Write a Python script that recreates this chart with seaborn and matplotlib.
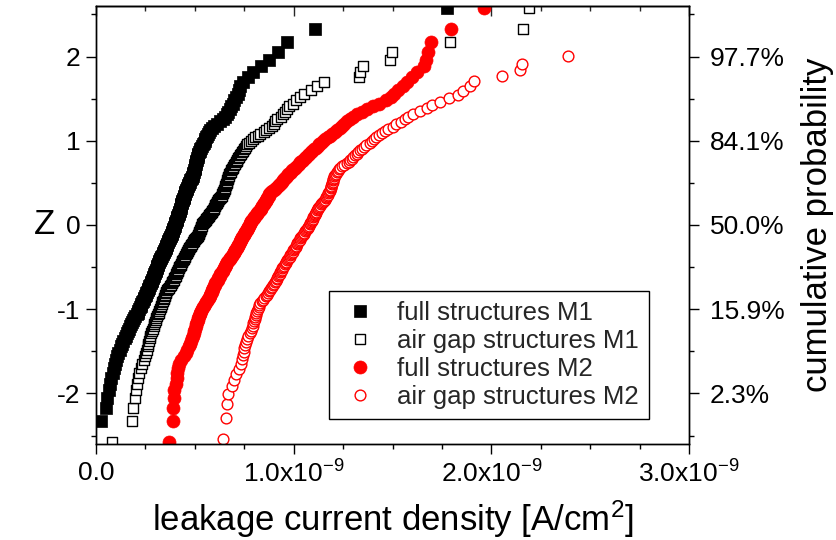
import matplotlib
matplotlib.use("Agg")
import matplotlib.pyplot as plt
import numpy as np
import pandas as pd
import seaborn as sns
from statistics import NormalDist
from matplotlib.lines import Line2D
from matplotlib.ticker import MultipleLocator, FixedLocator, FixedFormatter

# Leakage current densities in units of 1e-9 A/cm^2, sorted per sample set
full_m1 = [
    -0.050, 0.027, 0.050, 0.058, 0.065, 0.071, 0.077, 0.085, 0.090, 0.097,
    0.103, 0.108, 0.113, 0.120, 0.127, 0.133, 0.138, 0.145, 0.152, 0.158,
    0.163, 0.168, 0.172, 0.176, 0.183, 0.189, 0.193, 0.198, 0.205, 0.210,
    0.214, 0.219, 0.223, 0.227, 0.230, 0.234, 0.238, 0.241, 0.245, 0.249,
    0.252, 0.255, 0.258, 0.262, 0.265, 0.267, 0.270, 0.273, 0.276, 0.279,
    0.281, 0.284, 0.287, 0.289, 0.291, 0.294, 0.297, 0.300, 0.302, 0.305,
    0.307, 0.309, 0.311, 0.314, 0.316, 0.318, 0.321, 0.323, 0.326, 0.329,
    0.331, 0.334, 0.337, 0.340, 0.343, 0.345, 0.348, 0.350, 0.352, 0.354,
    0.356, 0.358, 0.361, 0.364, 0.366, 0.369, 0.371, 0.374, 0.376, 0.378,
    0.380, 0.382, 0.384, 0.386, 0.388, 0.390, 0.392, 0.394, 0.396, 0.398,
    0.400, 0.402, 0.404, 0.406, 0.408, 0.410, 0.411, 0.412, 0.414, 0.416,
    0.418, 0.420, 0.422, 0.424, 0.425, 0.427, 0.428, 0.429, 0.431, 0.432,
    0.433, 0.435, 0.437, 0.439, 0.441, 0.443, 0.445, 0.447, 0.449, 0.451,
    0.452, 0.454, 0.456, 0.459, 0.461, 0.464, 0.467, 0.470, 0.473, 0.476,
    0.478, 0.481, 0.484, 0.487, 0.489, 0.491, 0.493, 0.495, 0.497, 0.499,
    0.500, 0.502, 0.503, 0.505, 0.507, 0.508, 0.510, 0.512, 0.514, 0.516,
    0.518, 0.521, 0.524, 0.527, 0.531, 0.536, 0.541, 0.545, 0.549, 0.552,
    0.556, 0.561, 0.567, 0.572, 0.577, 0.586, 0.597, 0.610, 0.628, 0.640,
    0.652, 0.661, 0.668, 0.676, 0.685, 0.693, 0.700, 0.708, 0.716, 0.724,
    0.731, 0.745, 0.770, 0.793, 0.833, 0.877, 0.922, 0.968, 1.108, 1.774,
]

airgap_m1 = [
    0.080, 0.180, 0.189, 0.195, 0.200, 0.206, 0.213, 0.219, 0.227, 0.234,
    0.241, 0.246, 0.251, 0.256, 0.261, 0.265, 0.268, 0.271, 0.275, 0.279,
    0.283, 0.287, 0.291, 0.295, 0.299, 0.303, 0.306, 0.309, 0.313, 0.318,
    0.321, 0.324, 0.327, 0.330, 0.333, 0.336, 0.339, 0.342, 0.345, 0.348,
    0.350, 0.353, 0.356, 0.359, 0.363, 0.367, 0.372, 0.377, 0.382, 0.387,
    0.391, 0.394, 0.397, 0.400, 0.403, 0.406, 0.409, 0.412, 0.414, 0.416,
    0.419, 0.422, 0.425, 0.428, 0.431, 0.434, 0.437, 0.440, 0.443, 0.446,
    0.449, 0.452, 0.455, 0.458, 0.461, 0.464, 0.467, 0.470, 0.473, 0.476,
    0.479, 0.482, 0.486, 0.490, 0.494, 0.498, 0.502, 0.506, 0.510, 0.514,
    0.517, 0.519, 0.521, 0.523, 0.525, 0.527, 0.529, 0.531, 0.533, 0.535,
    0.538, 0.542, 0.546, 0.550, 0.554, 0.558, 0.562, 0.566, 0.570, 0.574,
    0.578, 0.582, 0.586, 0.589, 0.592, 0.595, 0.598, 0.601, 0.604, 0.607,
    0.610, 0.613, 0.616, 0.619, 0.623, 0.627, 0.631, 0.635, 0.639, 0.643,
    0.645, 0.647, 0.649, 0.651, 0.653, 0.655, 0.657, 0.659, 0.661, 0.663,
    0.664, 0.666, 0.668, 0.670, 0.672, 0.675, 0.678, 0.681, 0.684, 0.688,
    0.691, 0.695, 0.699, 0.703, 0.707, 0.711, 0.715, 0.719, 0.723, 0.728,
    0.732, 0.737, 0.742, 0.747, 0.752, 0.758, 0.764, 0.772, 0.782, 0.795,
    0.805, 0.818, 0.832, 0.848, 0.862, 0.876, 0.889, 0.898, 0.908, 0.918,
    0.935, 0.945, 0.955, 0.965, 0.978, 0.995, 1.013, 1.030, 1.052, 1.090,
    1.116, 1.153, 1.332, 1.335, 1.352, 1.487, 1.496, 1.790, 2.158, 2.190,
]

full_m2 = [
    0.371, 0.388, 0.389, 0.393, 0.397, 0.403, 0.408, 0.411, 0.414, 0.418,
    0.428, 0.446, 0.455, 0.462, 0.470, 0.476, 0.481, 0.486, 0.490, 0.494,
    0.497, 0.501, 0.504, 0.508, 0.511, 0.514, 0.517, 0.521, 0.525, 0.528,
    0.532, 0.537, 0.542, 0.547, 0.552, 0.557, 0.562, 0.567, 0.572, 0.577,
    0.579, 0.582, 0.585, 0.588, 0.591, 0.594, 0.597, 0.600, 0.604, 0.608,
    0.612, 0.615, 0.618, 0.621, 0.625, 0.629, 0.633, 0.637, 0.641, 0.645,
    0.648, 0.651, 0.654, 0.657, 0.660, 0.664, 0.668, 0.672, 0.676, 0.680,
    0.684, 0.688, 0.692, 0.696, 0.699, 0.702, 0.705, 0.708, 0.711, 0.714,
    0.717, 0.720, 0.723, 0.726, 0.729, 0.732, 0.735, 0.738, 0.741, 0.744,
    0.747, 0.750, 0.753, 0.756, 0.759, 0.762, 0.765, 0.768, 0.771, 0.774,
    0.777, 0.780, 0.783, 0.786, 0.789, 0.793, 0.797, 0.801, 0.805, 0.809,
    0.813, 0.817, 0.821, 0.825, 0.829, 0.833, 0.837, 0.841, 0.845, 0.849,
    0.852, 0.855, 0.858, 0.861, 0.864, 0.867, 0.870, 0.873, 0.876, 0.880,
    0.886, 0.892, 0.899, 0.906, 0.913, 0.920, 0.926, 0.932, 0.937, 0.942,
    0.946, 0.951, 0.956, 0.961, 0.967, 0.973, 0.979, 0.985, 0.992, 1.000,
    1.006, 1.013, 1.020, 1.027, 1.034, 1.041, 1.048, 1.056, 1.063, 1.071,
    1.079, 1.087, 1.095, 1.103, 1.112, 1.121, 1.130, 1.140, 1.150, 1.160,
    1.172, 1.184, 1.196, 1.208, 1.220, 1.232, 1.244, 1.256, 1.268, 1.283,
    1.298, 1.318, 1.345, 1.370, 1.400, 1.432, 1.465, 1.490, 1.510, 1.530,
    1.553, 1.575, 1.597, 1.622, 1.661, 1.669, 1.681, 1.693, 1.796, 1.963,
]

airgap_m2 = [
    0.644, 0.658, 0.661, 0.669, 0.690, 0.700, 0.709, 0.722, 0.734, 0.741,
    0.745, 0.748, 0.751, 0.756, 0.761, 0.766, 0.771, 0.777, 0.783, 0.788,
    0.792, 0.796, 0.799, 0.802, 0.804, 0.807, 0.811, 0.815, 0.819, 0.823,
    0.827, 0.832, 0.838, 0.845, 0.852, 0.858, 0.864, 0.869, 0.874, 0.879,
    0.884, 0.889, 0.894, 0.899, 0.904, 0.909, 0.914, 0.918, 0.922, 0.926,
    0.930, 0.933, 0.936, 0.939, 0.943, 0.947, 0.951, 0.955, 0.959, 0.963,
    0.967, 0.971, 0.975, 0.979, 0.983, 0.987, 0.991, 0.995, 0.999, 1.003,
    1.007, 1.010, 1.013, 1.016, 1.019, 1.022, 1.026, 1.030, 1.034, 1.038,
    1.042, 1.046, 1.050, 1.054, 1.058, 1.062, 1.066, 1.070, 1.074, 1.078,
    1.082, 1.085, 1.088, 1.091, 1.094, 1.097, 1.100, 1.103, 1.106, 1.109,
    1.112, 1.115, 1.118, 1.121, 1.124, 1.128, 1.132, 1.137, 1.142, 1.147,
    1.152, 1.157, 1.162, 1.166, 1.170, 1.173, 1.176, 1.179, 1.182, 1.185,
    1.187, 1.189, 1.191, 1.193, 1.195, 1.197, 1.199, 1.201, 1.203, 1.206,
    1.210, 1.214, 1.218, 1.223, 1.228, 1.235, 1.245, 1.257, 1.268, 1.278,
    1.286, 1.294, 1.302, 1.310, 1.318, 1.327, 1.337, 1.348, 1.358, 1.367,
    1.385, 1.395, 1.405, 1.418, 1.432, 1.446, 1.460, 1.478, 1.500, 1.520,
    1.545, 1.565, 1.580, 1.605, 1.639, 1.675, 1.700, 1.740, 1.787, 1.833,
    1.858, 1.892, 1.914, 2.056, 2.145, 2.153, 2.389, 3.150, 3.400, 3.900,
]

series_labels = [
    "full structures M1",
    "air gap structures M1",
    "full structures M2",
    "air gap structures M2",
]
series_values = [full_m1, airgap_m1, full_m2, airgap_m2]

xtick_values = [0.0, 1.0, 2.0, 3.0]
xtick_labels = ["0.0", r"1.0x10$^{-9}$", r"2.0x10$^{-9}$", r"3.0x10$^{-9}$"]
ztick_values = [-2, -1, 0, 1, 2]
ztick_labels = ["-2", "-1", "0", "1", "2"]
prob_labels = ["2.3%", "15.9%", "50.0%", "84.1%", "97.7%"]

# Normal probability plot: z-score from the rank of each sorted value
normal = NormalDist()
frames = []
for label, vals in zip(series_labels, series_values):
    n = len(vals)
    z = [normal.inv_cdf(i / (n + 1)) for i in range(1, n + 1)]
    frames.append(pd.DataFrame({
        "J": np.asarray(vals) * 1e-9,
        "z": z,
        "set": label,
    }))
df = pd.concat(frames, ignore_index=True)

sns.set_theme(style="ticks")
plt.rcParams["font.family"] = ["Liberation Sans", "DejaVu Sans"]
plt.rcParams["mathtext.fontset"] = "custom"
plt.rcParams["mathtext.rm"] = "Liberation Sans"
plt.rcParams["mathtext.it"] = "Liberation Sans:italic"
plt.rcParams["mathtext.bf"] = "Liberation Sans:bold"
plt.rcParams["axes.unicode_minus"] = False

fig = plt.figure(figsize=(8.36, 5.40), dpi=100)
ax = fig.add_axes([96 / 836, 1 - 444 / 540, (689 - 96) / 836, (444 - 6) / 540])

styles = {
    "full structures M1": dict(marker="s", s=64, color="black", edgecolor="black", linewidth=0.5),
    "air gap structures M1": dict(marker="s", s=46, color="white", edgecolor="black", linewidth=1.0),
    "full structures M2": dict(marker="o", s=88, color="red", edgecolor="red", linewidth=0.5),
    "air gap structures M2": dict(marker="o", s=60, color="white", edgecolor="red", linewidth=1.0),
}

for label in series_labels:
    sub = df[df["set"] == label]
    sns.scatterplot(data=sub, x="J", y="z", ax=ax, legend=False, **styles[label])

ax.set_xlim(0, 3e-9)
ax.set_ylim(-2.6, 2.6)

tick_fs = 19
ax.xaxis.set_major_locator(FixedLocator([v * 1e-9 for v in xtick_values]))
ax.xaxis.set_major_formatter(FixedFormatter(xtick_labels))
ax.xaxis.set_minor_locator(MultipleLocator(0.25e-9))
ax.yaxis.set_major_locator(FixedLocator(ztick_values))
ax.yaxis.set_major_formatter(FixedFormatter(ztick_labels))
ax.yaxis.set_minor_locator(MultipleLocator(0.5))
ax.tick_params(which="major", direction="out", length=7, width=1.0,
               labelsize=tick_fs, color="black", labelcolor="black")
ax.tick_params(which="minor", direction="out", length=3.6, width=1.0, color="black")
ax.tick_params(axis="x", which="major", pad=5)
ax.tick_params(axis="y", which="major", pad=4)

for sp in ax.spines.values():
    sp.set_visible(True)
    sp.set_color("black")
    sp.set_linewidth(1.0)

# Mirrored ticks along the top edge
top = ax.secondary_xaxis("top")
top.xaxis.set_major_locator(FixedLocator([v * 1e-9 for v in xtick_values]))
top.xaxis.set_minor_locator(MultipleLocator(0.25e-9))
top.tick_params(which="major", direction="in", length=7, width=1.0, labeltop=False)
top.tick_params(which="minor", direction="in", length=3.6, width=1.0)
top.spines["top"].set_linewidth(1.0)

# Cumulative probability scale on the right
ax2 = ax.twinx()
ax2.set_ylim(ax.get_ylim())
ax2.yaxis.set_major_locator(FixedLocator(ztick_values))
ax2.yaxis.set_major_formatter(FixedFormatter(prob_labels))
ax2.yaxis.set_minor_locator(MultipleLocator(0.5))
ax2.tick_params(which="major", direction="out", length=7, width=1.0,
                labelsize=tick_fs, color="black", labelcolor="black", pad=8)
ax2.tick_params(which="minor", direction="out", length=3.6, width=1.0, color="black")
ax2.grid(False)
for sp in ax2.spines.values():
    sp.set_linewidth(1.0)
    sp.set_color("black")

label_fs = 25
ax.set_xlabel("leakage current density [A/cm$^2$]", fontsize=label_fs, labelpad=8, color="black")
ax.set_ylabel("Z", fontsize=label_fs, labelpad=9, color="black", rotation=0, va="center")
ax2.set_ylabel("cumulative probability", fontsize=label_fs, labelpad=12, color="black")

handles = []
for label in series_labels:
    st = styles[label]
    ms = np.sqrt(st["s"])
    handles.append(Line2D([], [], linestyle="none", marker=st["marker"], markersize=ms,
                          markerfacecolor=st["color"], markeredgecolor=st["edgecolor"],
                          markeredgewidth=st["linewidth"]))
leg = ax.legend(handles, series_labels, loc="upper left", bbox_to_anchor=(0.393, 0.349),
                borderaxespad=0, fontsize=18.5, frameon=True, fancybox=False,
                framealpha=1, edgecolor="black", handlelength=1.6, handletextpad=0.65,
                borderpad=0.4, labelspacing=0.15)
leg.get_frame().set_linewidth(1.0)
leg.set_zorder(5)

fig.savefig("out.png", dpi=100)
